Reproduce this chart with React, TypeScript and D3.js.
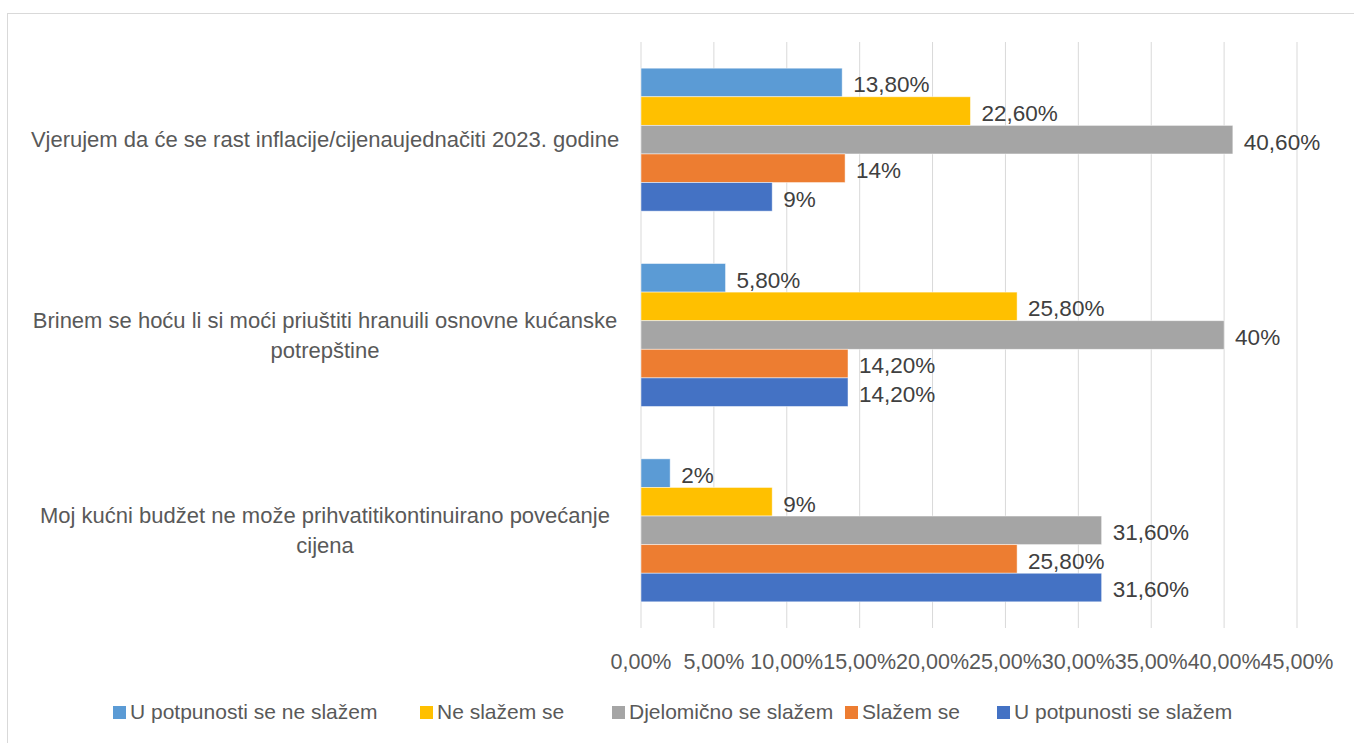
import React, { useEffect, useRef } from "react";
import * as d3 from "d3";

const categories = [
  "Vjerujem da će se rast inflacije/cijenaujednačiti 2023. godine",
  "Brinem se hoću li si moći priuštiti hranuili osnovne kućanske potrepštine",
  "Moj kućni budžet ne može prihvatitikontinuirano povećanje cijena",
];
const categoryLines = [
  ["Vjerujem da će se rast inflacije/cijenaujednačiti 2023. godine"],
  ["Brinem se hoću li si moći priuštiti hranuili osnovne kućanske", "potrepštine"],
  ["Moj kućni budžet ne može prihvatitikontinuirano povećanje", "cijena"],
];
const seriesNames = [
  "U potpunosti se ne slažem",
  "Ne slažem se",
  "Djelomično se slažem",
  "Slažem se",
  "U potpunosti se slažem",
];
const seriesColors = ["#5B9BD5", "#FFC000", "#A5A5A5", "#ED7D31", "#4472C4"];
// values per series, in category order
const neSlazemPotpuno = [0.138, 0.058, 0.02];
const neSlazem = [0.226, 0.258, 0.09];
const djelomicno = [0.406, 0.4, 0.316];
const slazem = [0.14, 0.142, 0.258];
const slazemPotpuno = [0.09, 0.142, 0.316];
const valueLabels = [
  ["13,80%", "5,80%", "2%"],
  ["22,60%", "25,80%", "9%"],
  ["40,60%", "40%", "31,60%"],
  ["14%", "14,20%", "25,80%"],
  ["9%", "14,20%", "31,60%"],
];
const ticks = [0, 0.05, 0.1, 0.15, 0.2, 0.25, 0.3, 0.35, 0.4, 0.45];
const tickLabels = ["0,00%", "5,00%", "10,00%", "15,00%", "20,00%", "25,00%", "30,00%", "35,00%", "40,00%", "45,00%"];

const seriesValues = [neSlazemPotpuno, neSlazem, djelomicno, slazem, slazemPotpuno];

export default function App() {
  const ref = useRef<SVGSVGElement>(null);

  useEffect(() => {
    const svg = d3.select(ref.current);
    svg.selectAll("*").remove();

    const width = 1354;
    const height = 743;
    const font = "'Liberation Sans', Arial, sans-serif";
    const textColor = "#595959";

    svg.attr("width", width).attr("height", height).style("font-family", font);

    svg.append("rect")
      .attr("x", 7.5).attr("y", 13.5)
      .attr("width", 1360).attr("height", 760)
      .attr("fill", "#fff").attr("stroke", "#d9d9d9");

    const x = d3.scaleLinear().domain([0, 0.45]).range([641, 1297]);
    const y0 = d3.scaleBand().domain(categories).range([42, 628]);
    const bw = y0.bandwidth();
    const y1 = d3.scaleBand().domain(seriesNames).range([bw * 0.134, bw * 0.866]);

    // gridlines
    svg.append("g")
      .selectAll("line")
      .data(ticks)
      .enter()
      .append("line")
      .attr("x1", d => x(d)).attr("x2", d => x(d))
      .attr("y1", 42).attr("y2", 628)
      .attr("stroke", "#d9d9d9").attr("stroke-width", 1);

    // tick labels
    svg.append("g")
      .selectAll("text")
      .data(ticks)
      .enter()
      .append("text")
      .attr("x", d => x(d))
      .attr("y", 661)
      .attr("dy", "0.35em")
      .attr("text-anchor", "middle")
      .attr("fill", textColor)
      .style("font-size", "21.5px")
      .text((d, i) => tickLabels[i]);

    // bars
    seriesNames.forEach((s, si) => {
      const g = svg.append("g");
      g.selectAll("rect")
        .data(seriesValues[si])
        .enter()
        .append("rect")
        .attr("x", x(0))
        .attr("y", (d, ci) => (y0(categories[ci]) as number) + (y1(s) as number))
        .attr("width", d => x(d) - x(0))
        .attr("height", y1.bandwidth())
        .attr("fill", seriesColors[si])
        .attr("stroke", "#fff")
        .attr("stroke-opacity", 0.6)
        .attr("stroke-width", 0.8);

      g.selectAll("text")
        .data(seriesValues[si])
        .enter()
        .append("text")
        .attr("x", d => x(d) + 11)
        .attr("y", (d, ci) => (y0(categories[ci]) as number) + (y1(s) as number) + y1.bandwidth() / 2 + 2)
        .attr("dy", "0.35em")
        .attr("fill", "#404040")
        .style("font-size", "22.5px")
        .text((d, ci) => valueLabels[si][ci]);
    });

    // category labels
    categories.forEach((c, ci) => {
      const lines = categoryLines[ci];
      const cy = (y0(c) as number) + bw / 2;
      const t = svg.append("text")
        .attr("text-anchor", "middle")
        .attr("fill", textColor)
        .style("font-size", "22px");
      lines.forEach((ln, li) => {
        t.append("tspan")
          .attr("x", 325)
          .attr("y", cy + (li - (lines.length - 1) / 2) * 30)
          .attr("dy", "0.35em")
          .text(ln);
      });
    });

    // legend
    const legendX = [113, 420, 612, 845, 997];
    const lg = svg.append("g");
    seriesNames.forEach((s, si) => {
      lg.append("rect")
        .attr("x", legendX[si]).attr("y", 706)
        .attr("width", 13).attr("height", 13)
        .attr("fill", seriesColors[si]);
      lg.append("text")
        .attr("x", legendX[si] + 17).attr("y", 712)
        .attr("dy", "0.35em")
        .attr("fill", textColor)
        .style("font-size", "21px")
        .text(s);
    });
  }, []);

  return (
    <div style={{ position: "absolute", left: 0, top: 0 }}>
      <svg ref={ref}></svg>
    </div>
  );
}
